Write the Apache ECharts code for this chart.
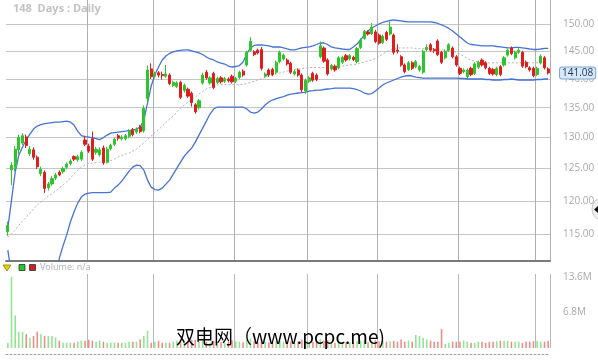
<!DOCTYPE html>
<html><head><meta charset="utf-8">
<script src="https://cdn.jsdelivr.net/npm/echarts@6/dist/echarts.min.js"></script>
<style>html,body{margin:0;padding:0;background:#fff}#c{width:598px;height:360px}</style>
</head><body><div id="c"></div>
<script>
// ---- data ----
const dayCount = 148;
const categories = Array.from({length: dayCount}, (_, i) => String(i + 1));
const monthBreaks = [22, 40, 62, 82, 101, 123, 144];
const priceTicks = [115, 120, 125, 130, 135, 140, 145, 150];
const lastPrice = 141.08;

const opens = [
115.4,124.8,125.2,128.0,129.1,130.1,127.4,128.0,126.8,124.2,
124.4,122.0,122.6,123.5,124.4,124.5,125.2,125.8,126.9,126.4,
126.5,129.6,128.6,129.8,127.6,127.2,128.3,126.0,128.2,128.9,
130.3,129.8,129.8,130.2,131.3,130.9,131.8,131.1,136.6,141.8,
140.5,141.1,140.8,140.5,140.7,138.9,138.7,139.4,138.0,138.2,
137.5,135.5,135.0,139.3,141.2,139.3,141.0,139.4,140.2,139.6,
140.0,140.5,139.6,140.3,141.4,142.5,145.2,144.9,145.2,145.3,
140.5,141.6,141.7,141.2,143.1,143.6,143.4,142.8,140.9,141.6,
140.7,137.9,139.6,141.0,140.7,144.0,145.6,143.4,141.8,142.3,
142.0,143.0,144.2,143.6,143.9,143.1,145.7,147.4,148.6,148.3,
148.6,148.0,146.6,148.5,148.2,148.0,145.2,144.0,142.5,141.7,
142.9,142.2,141.6,141.2,145.3,146.2,145.3,146.9,144.8,143.8,
145.2,145.6,144.0,141.9,141.3,140.4,141.9,141.0,142.1,143.4,
142.9,141.9,141.7,140.8,142.2,142.5,144.3,145.6,143.8,144.8,
144.8,143.0,142.0,141.9,140.8,142.9,143.8,141.8];
const closes = [
116.3,125.5,128.1,130.0,130.3,128.7,128.1,126.8,125.3,124.9,
121.9,122.6,123.4,124.0,124.0,125.0,125.7,126.2,126.5,126.9,
127.6,128.9,127.8,126.5,128.1,128.0,125.9,128.1,128.7,129.7,
129.9,130.1,130.3,131.1,130.5,131.4,131.0,134.9,141.6,140.4,
140.9,140.7,140.6,140.9,139.2,139.4,139.3,136.8,138.9,137.0,
135.9,134.3,136.2,140.7,140.2,140.2,138.5,140.1,139.5,140.1,
139.7,139.5,140.1,141.2,140.7,144.8,146.8,144.4,144.7,141.9,
140.9,140.7,140.8,143.0,144.8,144.3,142.7,141.2,141.3,140.7,
138.1,139.8,140.2,139.8,139.9,146.0,143.2,140.9,142.4,141.6,
143.8,143.9,143.4,144.2,143.5,145.5,147.1,148.7,148.2,149.5,
146.8,146.5,147.8,147.2,149.5,144.8,145.0,142.5,141.3,142.9,
141.9,143.1,142.2,145.0,145.7,145.2,145.1,144.4,143.0,145.0,
146.2,144.0,142.5,141.0,141.6,141.6,140.8,142.7,143.0,142.5,
142.0,141.0,140.9,141.9,140.8,143.8,145.2,144.6,144.8,145.2,
142.3,142.2,141.6,140.6,141.9,144.1,142.0,141.08];
const lows = [
114.8,122.4,124.6,127.3,128.8,128.3,127.0,126.4,124.9,123.8,
121.2,121.6,122.3,123.2,123.8,124.2,124.9,125.5,126.2,126.1,
126.2,128.6,127.5,126.2,127.2,126.9,125.6,125.8,127.9,128.6,
129.5,129.5,129.5,129.9,130.2,130.6,130.7,130.8,135.9,140.0,
140.1,140.3,139.9,140.2,138.9,138.6,138.4,136.5,137.6,136.7,
135.2,134.0,134.7,139.0,139.9,139.0,138.2,139.1,139.2,139.3,
139.4,139.2,139.3,140.0,140.4,142.2,144.9,144.1,144.4,141.5,
140.2,140.4,140.5,140.9,142.8,143.3,142.4,140.9,140.6,140.4,
137.6,137.4,139.3,139.5,139.6,143.7,142.9,140.6,141.5,141.3,
141.7,142.7,143.1,143.3,143.2,142.8,145.4,147.1,147.9,148.0,
146.5,146.2,146.3,146.9,147.9,144.4,144.6,142.2,141.0,141.4,
141.6,141.9,141.3,140.9,145.0,144.9,144.7,144.1,142.7,143.5,
144.9,143.7,142.2,140.7,141.0,140.1,140.5,140.7,141.8,142.2,
141.7,140.7,140.6,140.5,140.5,142.2,144.0,144.3,143.5,144.5,
142.0,141.9,141.3,140.3,140.5,142.6,141.7,140.8];
const highs = [
116.9,126.0,128.6,130.5,130.7,130.5,128.6,128.4,127.1,125.3,
124.7,122.9,123.8,124.3,124.7,125.3,126.0,126.5,127.1,127.2,
127.9,130.3,129.0,131.0,128.5,128.4,128.7,128.5,129.0,130.0,
130.6,130.4,130.6,131.4,131.6,131.7,132.1,135.4,142.4,142.8,
141.3,141.4,141.3,142.5,141.0,139.7,139.6,139.7,139.2,138.5,
137.8,135.8,136.5,141.1,141.6,140.5,141.3,140.4,140.5,140.4,
140.3,140.8,140.4,141.5,141.7,145.1,147.6,145.2,145.5,145.8,
141.2,141.9,142.0,143.3,145.1,144.6,143.7,143.1,141.6,141.9,
141.0,140.1,140.5,141.3,141.0,146.8,145.9,143.7,142.7,142.6,
144.1,144.2,144.5,144.5,144.2,145.8,147.4,149.0,148.9,150.3,
149.0,148.3,148.1,148.8,150.6,148.3,146.3,144.3,142.8,143.2,
143.2,143.4,142.5,145.3,146.3,146.5,145.6,147.2,145.1,145.3,
146.5,145.9,144.3,142.2,141.9,141.9,142.2,143.0,143.3,143.7,
143.2,142.2,142.0,142.2,142.5,144.1,145.5,145.9,145.1,145.6,
145.1,143.3,142.3,142.2,142.2,144.4,144.1,142.1];
const bandUpper = [
115.92,120.11,124.44,127.15,128.45,129.59,130.58,131.41,131.90,132.15,
132.32,132.41,132.49,132.57,132.57,132.66,132.74,132.57,132.07,131.07,
130.33,130.16,130.08,130.00,129.84,129.67,130.00,130.41,130.74,130.83,
130.91,130.99,131.07,131.16,131.24,131.41,131.74,132.91,135.80,138.76,
140.71,142.14,143.41,144.14,144.60,144.88,145.06,145.15,145.24,145.24,
145.06,144.88,144.69,144.41,143.96,143.59,143.41,143.05,142.86,142.68,
142.32,142.14,142.23,142.41,143.05,144.50,145.61,146.07,146.16,146.16,
146.07,145.98,145.79,145.79,145.79,145.61,145.42,145.24,145.24,145.42,
145.61,145.70,145.79,145.98,146.25,146.53,146.53,146.25,145.79,145.61,
145.52,145.42,145.33,145.33,145.79,146.34,147.09,148.02,148.77,149.34,
149.72,150.10,150.38,150.57,150.76,150.86,150.76,150.67,150.57,150.48,
150.48,150.48,150.48,150.48,150.48,150.48,150.38,150.19,149.91,149.62,
149.25,148.77,148.21,147.65,147.09,146.53,146.25,146.16,146.07,145.98,
145.98,145.98,145.98,145.88,145.79,145.70,145.61,145.61,145.70,145.70,
145.61,145.52,145.42,145.33,145.33,145.42,145.52,145.52];
const bandMiddle = [
114.61,115.05,115.63,116.36,116.95,117.55,118.15,118.75,119.35,119.81,
120.26,120.72,121.10,121.49,121.95,122.41,122.88,123.50,124.13,124.76,
125.23,125.55,125.79,125.87,125.95,126.03,126.03,126.11,126.27,126.51,
126.83,127.07,127.31,127.47,127.80,128.12,128.61,129.10,129.67,130.25,
130.83,131.32,131.90,132.49,133.08,133.59,134.27,134.95,135.46,135.98,
136.41,136.84,137.36,137.80,138.24,138.50,138.76,138.94,139.00,139.00,
139.00,139.00,139.00,139.00,139.05,139.20,139.40,139.60,139.85,140.05,
140.30,140.50,140.70,140.89,141.07,141.25,141.42,141.60,141.69,141.78,
141.87,141.96,142.05,142.05,142.05,142.05,142.05,142.05,142.05,142.14,
142.23,142.32,142.41,142.50,142.59,142.68,142.86,143.05,143.23,143.41,
143.68,144.04,144.50,144.88,145.24,145.52,145.61,145.61,145.61,145.61,
145.61,145.52,145.52,145.52,145.52,145.52,145.42,145.42,145.33,145.20,
145.10,145.00,144.80,144.50,144.10,143.70,143.40,143.20,143.10,143.00,
142.90,142.90,142.90,142.90,142.90,142.90,142.90,142.90,142.90,142.90,
142.90,142.90,142.90,142.90,142.90,142.90,142.90,142.90];
const bandLower = [
112.74,109.2,105.8,103.1,101.2,99.9,99.3,99.1,99.1,99.3,
99.9,101.2,103.1,105.8,111.60,113.32,114.90,116.80,118.30,119.65,
120.57,121.03,121.18,121.26,121.26,121.26,121.26,121.26,121.33,121.95,
122.41,123.03,123.81,124.60,125.23,125.55,125.47,124.76,123.19,122.10,
121.72,121.64,121.95,122.56,123.19,124.13,125.07,126.03,126.99,127.64,
128.28,129.26,130.41,131.57,132.74,133.93,134.78,135.12,135.12,135.12,
135.12,135.12,135.12,135.12,135.12,134.78,134.27,134.10,134.27,134.78,
135.46,135.98,136.32,136.58,136.76,136.93,137.19,137.36,137.45,137.54,
137.62,137.71,137.89,137.97,138.06,138.06,138.15,138.24,138.32,138.41,
138.41,138.41,138.41,138.41,138.32,138.15,137.89,137.54,137.36,137.45,
137.89,138.41,138.94,139.29,139.56,139.82,140.09,140.35,140.53,140.62,
140.53,140.35,140.26,140.17,140.17,140.17,140.17,140.17,140.17,140.17,
140.17,140.17,140.17,140.09,140.09,140.00,140.00,140.00,140.00,140.00,
139.91,139.91,139.82,139.82,139.82,139.91,139.91,140.00,139.91,139.82,
139.82,139.82,139.82,139.82,139.91,139.91,140.00,140.00];
// volume in millions
const volumes = [
1.0,13.6,6.2,3.1,3.1,2.6,1.9,2.3,3.1,2.6,
2.3,2.3,2.3,2.0,1.4,1.0,1.0,1.0,1.0,1.2,
1.4,1.4,1.6,1.4,1.2,1.4,1.2,1.0,1.0,1.0,
1.0,1.0,1.0,1.2,1.2,1.2,1.6,2.3,3.3,1.0,
1.2,1.4,1.0,1.0,1.0,1.2,1.4,1.2,1.2,1.4,
1.6,1.6,1.2,1.4,1.2,1.0,1.4,1.2,1.1,1.0,
1.2,1.5,1.3,1.2,1.1,1.6,1.8,1.3,1.2,1.7,
1.2,1.1,1.0,1.3,1.4,1.2,1.1,1.3,1.0,1.2,
1.6,1.5,1.1,1.2,1.1,1.7,1.4,1.5,1.1,1.0,
1.2,1.1,1.0,1.1,1.0,1.3,1.4,1.5,1.1,1.4,
1.5,1.3,1.4,1.2,1.3,1.4,1.2,1.6,1.2,1.4,
1.2,2.5,2.3,1.9,1.6,1.4,1.2,1.2,3.6,0.8,
1.0,1.2,1.2,1.2,1.4,1.2,1.0,1.0,1.2,1.2,
1.0,1.2,1.2,1.3,1.4,1.4,1.4,1.2,1.2,1.2,
1.0,1.2,1.2,1.3,1.4,1.2,1.2,1.4];

// ---- styling ----
const UP = '#2cc52c', DOWN = '#e01c1c';
const UPV = '#8fe48f', DOWNV = '#ef8a8a';
const BAND = '#4472d6';

const candleData = opens.map((o, i) => [o, closes[i], lows[i], highs[i]]);
const volData = volumes.map((v, i) => ({
  value: v,
  itemStyle: {color: closes[i] >= opens[i] ? UPV : DOWNV}
}));
const splitIv = (idx) => monthBreaks.indexOf(idx) >= 0;

const chart = echarts.init(document.getElementById('c'), null, {renderer: 'canvas'});
chart.setOption({
  animation: false,
  backgroundColor: '#ffffff',
  grid: [
    {left: 6, right: 48, top: 0, height: 261},
    {left: 6, right: 48, top: 274, height: 74}
  ],
  xAxis: [
    {type: 'category', gridIndex: 0, data: categories, boundaryGap: true,
     axisLine: {show: true, onZero: false, lineStyle: {color: '#7a7a7a', width: 2}},
     axisTick: {show: false}, axisLabel: {show: false},
     splitLine: {show: true, interval: splitIv, lineStyle: {color: '#b0b0b0', width: 1}}},
    {type: 'category', gridIndex: 1, data: categories, boundaryGap: true, offset: 6,
     axisLine: {show: true, onZero: false, lineStyle: {color: '#a0a0a0', width: 1, type: [2, 2]}},
     axisTick: {show: false}, axisLabel: {show: false},
     splitLine: {show: true, interval: splitIv, lineStyle: {color: '#b8b8b8', width: 1}}}
  ],
  yAxis: [
    {type: 'log', logBase: 10, gridIndex: 0, position: 'right', min: 111.2, max: 154.72,
     axisLine: {show: false}, axisTick: {show: false, customValues: priceTicks},
     axisLabel: {customValues: priceTicks, formatter: v => Number(v).toFixed(2),
       color: '#a9a9a9', fontSize: 10, margin: 13, fontFamily: 'Open Sans'},
     splitLine: {show: true, lineStyle: {color: '#c6c6c6', width: 1}}},
    {type: 'value', gridIndex: 1, position: 'right', min: 0, max: 14.12, interval: 6.8,
     axisLine: {show: false}, axisTick: {show: false}, splitLine: {show: false},
     axisLabel: {showMinLabel: false, showMaxLabel: false, formatter: v => v.toFixed(1) + 'M',
       color: '#a9a9a9', fontSize: 10, margin: 13, fontFamily: 'Open Sans'}}
  ],
  series: [
    {type: 'line', name: 'upper', xAxisIndex: 0, yAxisIndex: 0, data: bandUpper,
     symbol: 'none', clip: true, lineStyle: {color: BAND, width: 1.3}, z: 3},
    {type: 'line', name: 'lower', xAxisIndex: 0, yAxisIndex: 0, data: bandLower,
     symbol: 'none', clip: true, lineStyle: {color: BAND, width: 1.3}, z: 3},
    {type: 'line', name: 'middle', xAxisIndex: 0, yAxisIndex: 0, data: bandMiddle,
     symbol: 'none', clip: true, lineStyle: {color: '#b4b4b4', width: 1, type: [2, 2]}, z: 3},
    {type: 'candlestick', xAxisIndex: 0, yAxisIndex: 0, data: candleData,
     barWidth: '72%', z: 4,
     itemStyle: {color: UP, color0: DOWN, borderColor: UP, borderColor0: DOWN, borderWidth: 1},
     markLine: {silent: true, symbol: 'none', animation: false, z: 10,
       lineStyle: {color: 'rgba(0,0,0,0)', width: 1, type: 'solid'},
       label: {show: true, position: 'end', distance: 10, formatter: lastPrice.toFixed(2),
         color: '#1c3a66', fontSize: 10, fontFamily: 'Open Sans',
         backgroundColor: '#d8e8f6', borderColor: '#7ea8d6', borderWidth: 1,
         borderRadius: 2, padding: [1, 2, 0, 2]},
       emphasis: {disabled: true},
       data: [{yAxis: lastPrice}]}},
    {type: 'bar', xAxisIndex: 1, yAxisIndex: 1, data: volData, barWidth: '42%'}
  ],
  graphic: [
    {type: 'text', left: 13, top: 3, style: {text: '148  Days : Daily', fill: '#c2c2c2',
      font: 'bold 11px "Open Sans"'}},
    {type: 'polygon', shape: {points: [[3, 265], [11, 265], [7, 271]]},
      style: {fill: '#e6d400', stroke: '#8a7f00', lineWidth: 0.8}},
    {type: 'rect', shape: {x: 19, y: 264.5, width: 6, height: 6},
      style: {fill: '#22cc22', stroke: '#333', lineWidth: 0.8}},
    {type: 'rect', shape: {x: 29.5, y: 264.5, width: 6, height: 6},
      style: {fill: '#cc2222', stroke: '#333', lineWidth: 0.8}},
    {type: 'text', left: 40, top: 263, style: {text: 'Volume: n/a', fill: '#b0b0b0',
      font: '9px "Open Sans"'}},
    {type: 'circle', shape: {cx: 604, cy: 209, r: 12},
      style: {fill: '#f0f0f0', stroke: '#c8c8c8', lineWidth: 1}},
    {type: 'polygon', shape: {points: [[594, 209.5], [598, 206], [598, 213]]},
      style: {fill: '#111'}},
    {type: 'text', left: 176, top: 327, z: 100, style: {text: '双电网（www.pcpc.me)',
      fill: '#000', font: '19px "Noto Sans CJK SC"'}}
  ]
});
</script></body></html>
